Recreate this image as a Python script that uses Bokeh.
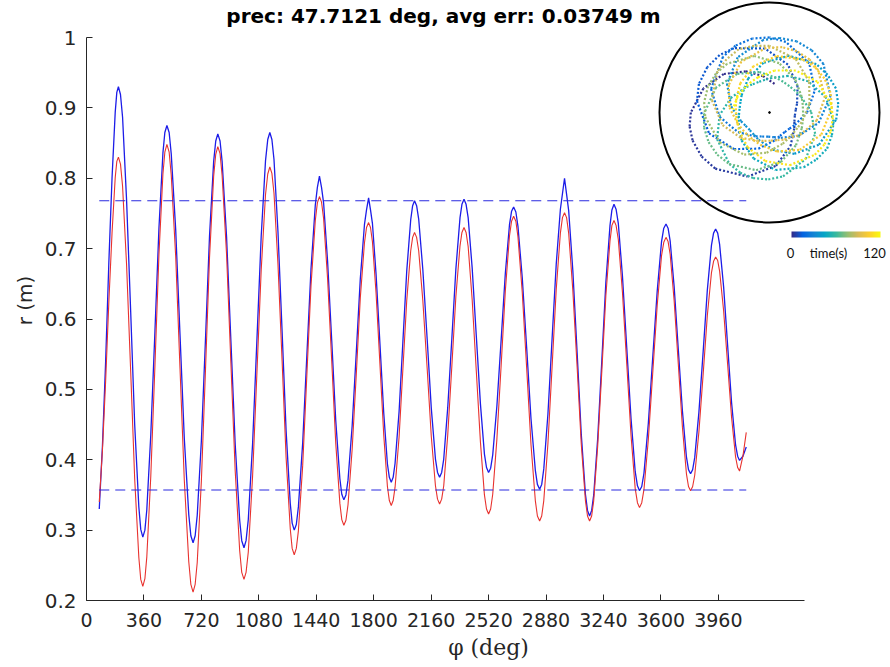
import numpy as np
from bokeh.plotting import figure
from bokeh.models import Range1d, FixedTicker, NumeralTickFormatter, Label, LinearColorMapper, ColumnDataSource
from bokeh.transform import linear_cmap
from bokeh.embed import file_html
from bokeh.resources import INLINE

# ---------------- data ----------------
TITLE = "prec: 47.7121 deg, avg err: 0.03749 m"
X_LABEL = "φ (deg)"
Y_LABEL = "r (m)"
X_TICKS = [0, 360, 720, 1080, 1440, 1800, 2160, 2520, 2880, 3240, 3600, 3960]
Y_TICKS = [0.2, 0.3, 0.4, 0.5, 0.6, 0.7, 0.8, 0.9, 1.0]
X_AXIS_END = 4500
TIME_RANGE = [0, 120]
TIME_LABEL = "time(s)"
ARENA_RADIUS = 1.25
R_MAX_LINE = 0.768
R_MIN_LINE = 0.357

PHI = [80, 100, 120, 140, 160, 180, 190, 200,
       213, 226, 251, 277, 302, 328, 340, 353,
       366, 378, 403, 429, 454, 479, 491, 504,
       518, 531, 559, 586, 613, 641, 654, 668,
       681, 694, 720, 746, 771, 797, 810, 823,
       837, 850, 878, 905, 932, 960, 973, 987,
       1000, 1014, 1041, 1068, 1095, 1122, 1136, 1149,
       1162, 1175, 1200, 1226, 1251, 1277, 1289, 1302,
       1315, 1328, 1355, 1381, 1407, 1434, 1447, 1460,
       1473, 1486, 1511, 1537, 1562, 1588, 1600, 1613,
       1626, 1639, 1665, 1691, 1716, 1742, 1755, 1768,
       1780, 1792, 1815, 1839, 1863, 1886, 1898, 1910,
       1922, 1934, 1959, 1983, 2007, 2032, 2044, 2056,
       2069, 2082, 2108, 2135, 2161, 2187, 2200, 2213,
       2226, 2239, 2264, 2290, 2315, 2341, 2353, 2366,
       2379, 2392, 2417, 2443, 2469, 2494, 2507, 2520,
       2533, 2546, 2572, 2599, 2625, 2651, 2664, 2677,
       2691, 2704, 2731, 2759, 2786, 2813, 2826, 2840,
       2853, 2866, 2892, 2918, 2944, 2970, 2983, 2996,
       3009, 3022, 3048, 3075, 3101, 3127, 3140, 3153,
       3166, 3179, 3204, 3230, 3255, 3281, 3293, 3306,
       3319, 3333, 3359, 3386, 3413, 3439, 3453, 3466,
       3480, 3494, 3521, 3549, 3577, 3604, 3618, 3632,
       3645, 3658, 3683, 3709, 3735, 3760, 3773, 3786,
       3799, 3812, 3838, 3865, 3891, 3917, 3930, 3943,
       3956, 3968, 3993, 4018, 4043, 4068, 4081, 4093,
       4114, 4135]

R_MEAS = [.330, .420, .540, .680, .800, .894, .922, .930,
          .919, .887, .770, .610, .450, .333, .301, .290,
          .300, .329, .436, .583, .729, .836, .865, .875,
          .865, .835, .727, .578, .430, .322, .292, .282,
          .292, .321, .427, .573, .718, .824, .853, .863,
          .853, .824, .716, .569, .422, .314, .285, .275,
          .285, .315, .423, .570, .718, .825, .855, .865,
          .855, .827, .724, .582, .441, .338, .310, .300,
          .308, .333, .424, .548, .671, .762, .787, .803,
          .787, .765, .682, .569, .456, .373, .351, .343,
          .350, .371, .448, .553, .657, .734, .755, .772,
          .755, .736, .663, .565, .466, .394, .375, .368,
          .375, .395, .468, .568, .668, .741, .761, .768,
          .761, .742, .670, .572, .473, .401, .382, .375,
          .382, .401, .474, .573, .671, .744, .763, .770,
          .763, .744, .673, .576, .479, .408, .389, .382,
          .388, .407, .476, .571, .665, .734, .753, .759,
          .752, .732, .659, .558, .458, .385, .365, .358,
          .365, .387, .465, .572, .678, .756, .778, .800,
          .777, .754, .669, .552, .436, .351, .328, .320,
          .328, .350, .431, .542, .652, .733, .755, .763,
          .756, .736, .661, .559, .458, .383, .363, .356,
          .362, .381, .451, .546, .640, .710, .729, .735,
          .729, .711, .646, .557, .469, .404, .386, .380,
          .386, .403, .467, .554, .641, .705, .722, .728,
          .722, .706, .646, .563, .481, .421, .405, .399,
          .405, .418]

R_FIT = [.340, .414, .512, .624, .722, .801, .824, .830,
         .820, .789, .678, .525, .373, .261, .230, .220,
         .231, .262, .377, .534, .691, .806, .837, .848,
         .837, .805, .689, .530, .371, .255, .223, .212,
         .223, .254, .370, .529, .687, .803, .834, .845,
         .835, .804, .691, .537, .384, .271, .240, .230,
         .240, .269, .377, .523, .670, .777, .806, .816,
         .807, .779, .678, .540, .403, .302, .274, .265,
         .274, .299, .392, .520, .647, .740, .765, .774,
         .766, .743, .657, .540, .424, .338, .315, .307,
         .314, .336, .415, .522, .630, .708, .730, .737,
         .730, .710, .636, .536, .435, .362, .342, .335,
         .342, .361, .432, .529, .626, .697, .716, .723,
         .716, .697, .626, .530, .433, .363, .344, .337,
         .344, .363, .435, .534, .632, .704, .723, .730,
         .723, .703, .628, .526, .425, .350, .330, .323,
         .330, .351, .429, .535, .640, .718, .739, .746,
         .739, .717, .638, .529, .421, .342, .320, .313,
         .320, .342, .423, .532, .642, .722, .744, .751,
         .744, .722, .641, .532, .422, .342, .320, .313,
         .320, .342, .420, .527, .633, .711, .733, .740,
         .733, .713, .638, .536, .434, .359, .339, .332,
         .339, .358, .428, .524, .620, .690, .709, .716,
         .710, .692, .626, .536, .446, .380, .362, .356,
         .362, .378, .439, .522, .605, .666, .682, .688,
         .683, .668, .612, .536, .460, .404, .389, .384,
         .405, .439]

# ---------------- style / layout ----------------
W, H = 890, 667
FL, FR, FT, FB = 86, 890, 0, 600          # frame edges in px
PX_PER_DEG = 57.44 / 360.0
PX_PER_R = 703.75
INSET_CX, INSET_CY, INSET_RPX = 769, 112, 110
PX_PER_M = INSET_RPX / ARENA_RADIUS

PARULA_ANCHORS = ["#352a87", "#0363e1", "#1485d4", "#06a7c6", "#38b99e",
                  "#92bf73", "#d9ba56", "#fcce2e", "#f9fb0e"]


def interp_hex(anchors, n):
    rgb = np.array([[int(h[i:i + 2], 16) for i in (1, 3, 5)] for h in anchors], float)
    pos = np.linspace(0, 1, len(anchors))
    q = np.linspace(0, 1, n)
    out = np.stack([np.interp(q, pos, rgb[:, k]) for k in range(3)], 1)
    return ["#%02x%02x%02x" % tuple(int(round(v)) for v in row) for row in out]


PAL = interp_hex(PARULA_ANCHORS, 256)
AX_COLOR = "#262626"
SANS = "DejaVu Sans"

p = figure(width=W, height=H, output_backend="svg", toolbar_location=None,
           x_range=Range1d(0, (FR - FL) / PX_PER_DEG),
           y_range=Range1d(0.2, 0.2 + (FB - FT) / PX_PER_R),
           min_border_left=FL, min_border_right=W - FR,
           min_border_top=FT, min_border_bottom=H - FB)
p.title.visible = False
p.outline_line_color = None
p.background_fill_color = "white"
p.border_fill_color = "white"
p.grid.visible = False

p.extra_x_ranges = {
    "px": Range1d(FL, FR),
    "ix": Range1d((FL - INSET_CX) / PX_PER_M, (FR - INSET_CX) / PX_PER_M),
}
p.extra_y_ranges = {
    "px": Range1d(FB, FT),
    "iy": Range1d((INSET_CY - FB) / PX_PER_M, (INSET_CY - FT) / PX_PER_M),
}

# axes
p.xaxis.ticker = FixedTicker(ticks=X_TICKS)
p.yaxis.ticker = FixedTicker(ticks=Y_TICKS)
p.yaxis.formatter = NumeralTickFormatter(format="0.[0]")
p.xaxis.bounds = (0, X_AXIS_END)
p.yaxis.bounds = (Y_TICKS[0], Y_TICKS[-1])
for ax in (p.xaxis[0], p.yaxis[0]):
    ax.axis_line_color = AX_COLOR
    ax.axis_line_width = 1
    ax.major_tick_line_color = AX_COLOR
    ax.major_tick_in = 6
    ax.major_tick_out = 0
    ax.minor_tick_line_color = None
    ax.major_label_text_color = AX_COLOR
    ax.major_label_text_font = SANS
    ax.axis_label_text_color = AX_COLOR
    ax.axis_label_text_font_style = "normal"
p.xaxis.major_label_text_font_size = "19px"
p.yaxis.major_label_text_font_size = "20px"
p.xaxis.major_label_standoff = 12
p.yaxis.major_label_standoff = 10
p.xaxis.axis_label = X_LABEL
p.xaxis.axis_label_text_font = "DejaVu Serif"
p.xaxis.axis_label_text_font_size = "22px"
p.xaxis.axis_label_standoff = 5
p.yaxis.axis_label = Y_LABEL
p.yaxis.axis_label_text_font = SANS
p.yaxis.axis_label_text_font_size = "20px"
p.yaxis.axis_label_standoff = 5

# main curves
p.line(PHI, R_MEAS, line_color="#1c1ce8", line_width=1.3)
p.line(PHI, R_FIT, line_color="#e8322e", line_width=1.1)
p.line([PHI[0], PHI[-1]], [R_MAX_LINE, R_MAX_LINE], line_color="#2a2ae0",
       line_width=1.2, line_dash="10 6")
p.line([PHI[0], PHI[-1]], [R_MIN_LINE, R_MIN_LINE], line_color="#2a2ae0",
       line_width=1.2, line_dash="10 6")

# inset: trajectory in polar coordinates coloured by time
phi_rad = np.deg2rad(np.array(PHI, float))
r = np.array(R_MEAS, float)
xs = r * np.cos(phi_rad)
ys = r * np.sin(phi_rad)
t = TIME_RANGE[0] + (TIME_RANGE[1] - TIME_RANGE[0]) * (phi_rad - phi_rad[0]) / (phi_rad[-1] - phi_rad[0])
seg = ColumnDataSource(dict(x0=xs[:-1], y0=ys[:-1], x1=xs[1:], y1=ys[1:], t=t[:-1]))
p.segment(x0="x0", y0="y0", x1="x1", y1="y1", source=seg,
          line_color=linear_cmap("t", PAL, TIME_RANGE[0], TIME_RANGE[1]),
          line_width=2.2, line_dash="2 2", x_range_name="ix", y_range_name="iy")
p.circle(x=[0], y=[0], radius=ARENA_RADIUS, fill_color=None, line_color="black",
         line_width=2, x_range_name="ix", y_range_name="iy")
p.scatter(x=[0], y=[0], size=1.8, color="black", x_range_name="ix", y_range_name="iy")

# colour bar (gradient image) + labels
grad = np.linspace(TIME_RANGE[0], TIME_RANGE[1], 256).reshape(1, -1)
p.image(image=[grad], x=791, y=231, dw=89, dh=6,
        color_mapper=LinearColorMapper(palette=PAL, low=TIME_RANGE[0], high=TIME_RANGE[1]),
        x_range_name="px", y_range_name="px")
for txt, xx in ((str(TIME_RANGE[0]), 790), (TIME_LABEL, 828), (str(TIME_RANGE[1]), 874)):
    p.add_layout(Label(x=xx, y=252, text=txt, x_range_name="px", y_range_name="px",
                       text_align="center", text_baseline="middle",
                       text_font="Lato", text_font_size="13px", text_color="#111111"))

# title
p.add_layout(Label(x=443, y=15, text=TITLE, x_range_name="px", y_range_name="px",
                   text_align="center", text_baseline="middle",
                   text_font=SANS, text_font_size="20px",
                   text_font_style="bold", text_color="black"))

open("out.html", "w").write(file_html(p, INLINE))
